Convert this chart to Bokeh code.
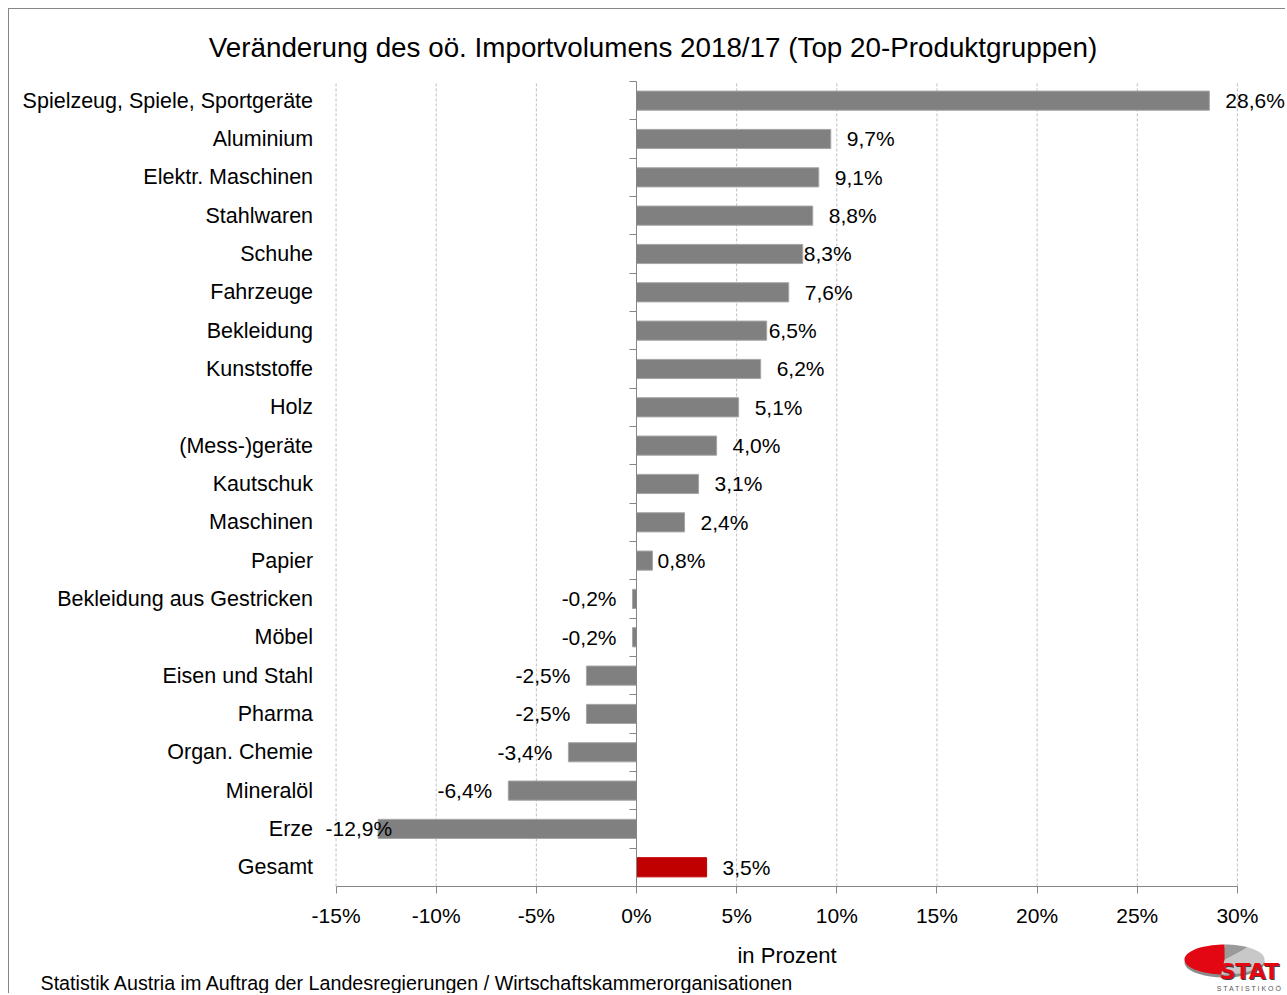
import numpy as np
from bokeh.plotting import figure
from bokeh.models import (ColumnDataSource, Range1d, FixedTicker, LabelSet, Label, LinearAxis,
                          PrintfTickFormatter, PolyAnnotation)
from bokeh.core.properties import value
from bokeh.embed import file_html
from bokeh.resources import INLINE

# ---------------- data ----------------
categories = ["Spielzeug, Spiele, Sportgeräte", "Aluminium", "Elektr. Maschinen", "Stahlwaren",
              "Schuhe", "Fahrzeuge", "Bekleidung", "Kunststoffe", "Holz", "(Mess-)geräte",
              "Kautschuk", "Maschinen", "Papier", "Bekleidung aus Gestricken", "Möbel",
              "Eisen und Stahl", "Pharma", "Organ. Chemie", "Mineralöl", "Erze", "Gesamt"]
values = [28.6, 9.7, 9.1, 8.8, 8.3, 7.6, 6.5, 6.2, 5.1, 4.0, 3.1, 2.4, 0.8,
          -0.2, -0.2, -2.5, -2.5, -3.4, -6.4, -12.9, 3.5]
highlight = "Gesamt"
x_ticks = [-15, -10, -5, 0, 5, 10, 15, 20, 25, 30]

title_text = "Veränderung des oö. Importvolumens 2018/17 (Top 20-Produktgruppen)"
x_axis_label = "in Prozent"
footer_text = "Statistik Austria im Auftrag der Landesregierungen / Wirtschaftskammerorganisationen"

# ---------------- layout / style ----------------
FONT = "Liberation Sans"
W, H = 1277, 985          # canvas size (placed at page x=9, y=9)
ORIGIN = 9                # page offset of canvas
PX_X, ZERO_X = 20.03, 636  # px per percent, page x of 0 %
PX_Y, TOP_Y = 38.33, 81    # px per category, page y of top category edge
BAR = "#808080"
RED = "#c00000"
AXIS = "#868686"
label_offset_override = {"Schuhe": 1, "Bekleidung": 2, "Papier": 5, "Erze": 14}

n = len(categories)
ypos = [n - 1 - i for i in range(n)]
labels = [f"{v:.1f}%".replace(".", ",") for v in values]

src = ColumnDataSource(dict(
    y=ypos, right=values,
    color=[RED if c == highlight else BAR for c in categories],
    line=[RED if c == highlight else "#a6a6a6" for c in categories],
))

pos = dict(x=[], y=[], t=[], off=[])
neg = dict(x=[], y=[], t=[], off=[])
for c, v, yy, t in zip(categories, values, ypos, labels):
    d = pos if v >= 0 else neg
    d["x"].append(v)
    d["y"].append(yy)
    d["t"].append(t)
    d["off"].append(label_offset_override.get(c, 16 if v >= 0 else -16))

x_range = Range1d((ORIGIN - ZERO_X) / PX_X, (ORIGIN + W - ZERO_X) / PX_X)
y_range = Range1d(n - 0.5 - (ORIGIN + H - TOP_Y) / PX_Y, n - 0.5 + (TOP_Y - ORIGIN) / PX_Y)

p = figure(width=W, height=H, output_backend="svg", toolbar_location=None,
           title_location=None, x_axis_location=None, y_axis_location=None,
           x_range=x_range, y_range=y_range, min_border=0)
p.styles = {"margin-left": "8px", "margin-top": "8px",
            "border-left": "1px solid #868686", "border-top": "1px solid #868686"}
p.outline_line_color = None
p.background_fill_color = "white"
p.border_fill_color = "white"
p.grid.visible = False

# dashed vertical grid lines
lo, hi = -0.5, n - 0.5
p.segment(x0=x_ticks, x1=x_ticks, y0=[lo] * len(x_ticks), y1=[hi] * len(x_ticks),
          line_color="#bfbfbf", line_dash="3 2", line_width=1)

p.hbar(y="y", left=0, right="right", height=0.5, fill_color="color", line_color="line",
       line_width=1, source=src)

# x axis
xax = LinearAxis(fixed_location=lo, bounds=(x_ticks[0], x_ticks[-1]),
                 ticker=FixedTicker(ticks=x_ticks), formatter=PrintfTickFormatter(format="%d%%"))
xax.axis_line_color = AXIS
xax.major_tick_line_color = AXIS
xax.major_tick_out = 7
xax.major_tick_in = 0
xax.minor_tick_line_color = None
xax.major_label_text_font = FONT
xax.major_label_text_font_size = "21px"
xax.major_label_text_color = "black"
xax.major_label_standoff = 11
xax.axis_label = x_axis_label
xax.axis_label_text_font = FONT
xax.axis_label_text_font_size = "22px"
xax.axis_label_text_font_style = "normal"
xax.axis_label_text_color = "black"
xax.axis_label_standoff = 12
p.add_layout(xax, "below")

# category names axis
yax = LinearAxis(fixed_location=x_ticks[0], ticker=FixedTicker(ticks=ypos))
yax.major_label_overrides = {yy: c for yy, c in zip(ypos, categories)}
yax.axis_line_color = None
yax.major_tick_line_color = None
yax.minor_tick_line_color = None
yax.major_label_standoff = 17
yax.major_label_text_font = FONT
yax.major_label_text_font_size = "21.5px"
yax.major_label_text_color = "black"
p.add_layout(yax, "left")

# zero line axis with ticks between categories
bounds = [b - 0.5 for b in range(n + 1)]
zax = LinearAxis(fixed_location=0, bounds=(lo, hi), ticker=FixedTicker(ticks=bounds))
zax.axis_line_color = AXIS
zax.major_tick_line_color = AXIS
zax.major_tick_out = 7
zax.major_tick_in = 0
zax.minor_tick_line_color = None
zax.major_label_text_color = None
p.add_layout(zax, "left")

# value labels
for d, align in ((pos, "left"), (neg, "right")):
    ls = LabelSet(x="x", y="y", text="t", x_offset="off", source=ColumnDataSource(d),
                  text_align=align, text_baseline="middle", text_font=value(FONT),
                  text_font_size="21px", text_color="black")
    p.add_layout(ls)

# title & footer
p.add_layout(Label(x=651.5 - ORIGIN, y=46 - ORIGIN, x_units="canvas", y_units="canvas",
                   text=title_text, text_align="center", text_baseline="middle",
                   text_font=FONT, text_font_size="27.8px", text_color="black"))
p.add_layout(Label(x=39 - ORIGIN, y=981 - ORIGIN, x_units="canvas", y_units="canvas",
                   text=footer_text, text_align="left", text_baseline="middle",
                   text_font=FONT, text_font_size="19.7px", text_color="black"))

# logo (STAT Statistik OÖ)
cx, cy, rx, ry = 1223 - ORIGIN, 958 - ORIGIN, 40, 15
def wedge(a0, a1, dy=0):
    a = np.radians(np.linspace(a0, a1, 40))
    xs = [cx] + list(cx + rx * np.cos(a))
    ys = [cy + dy] + list(cy + dy - ry * np.sin(a))
    return xs, ys
xs, ys = wedge(0, 360, 3)
p.add_layout(PolyAnnotation(xs=xs, ys=ys, xs_units="canvas", ys_units="canvas",
                            fill_color="#8c8c8c", fill_alpha=1, line_color=None))
for a0, a1, col in ((-95, 55, "#c8c8c8"), (55, 90, "#9a9a9a"), (90, 265, "#e30613")):
    xs, ys = wedge(a0, a1)
    p.add_layout(PolyAnnotation(xs=xs, ys=ys, xs_units="canvas", ys_units="canvas",
                                fill_color=col, fill_alpha=1, line_color=None))
p.add_layout(Label(x=1218 - ORIGIN + 1, y=970 - ORIGIN + 1, x_units="canvas", y_units="canvas",
                   text="STAT", text_align="left", text_baseline="middle",
                   text_font="DejaVu Sans", text_font_style="bold", text_font_size="22px",
                   text_color="#404040"))
p.add_layout(Label(x=1218 - ORIGIN, y=970 - ORIGIN, x_units="canvas", y_units="canvas",
                   text="STAT", text_align="left", text_baseline="middle",
                   text_font="DejaVu Sans", text_font_style="bold", text_font_size="22px",
                   text_color="#e30613"))
p.add_layout(Label(x=1250 - ORIGIN, y=987 - ORIGIN, x_units="canvas", y_units="canvas",
                   text="S T A T I S T I K   O Ö", text_align="center", text_baseline="middle",
                   text_font=FONT, text_font_size="7px", text_color="#555555"))

open("out.html", "w").write(file_html(p, INLINE))
